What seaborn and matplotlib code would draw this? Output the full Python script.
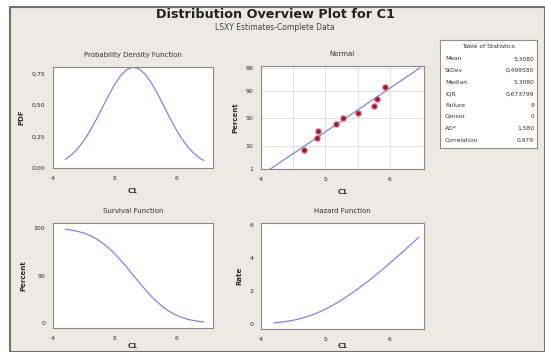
import numpy as np
import matplotlib
matplotlib.use("Agg")
import matplotlib.pyplot as plt
import seaborn as sns
from matplotlib.patches import Rectangle
from statistics import NormalDist

# values
curve_x = [4.2, 4.3, 4.4, 4.5, 4.6, 4.7, 4.8, 4.9, 5.0, 5.1, 5.2, 5.3,
           5.4, 5.5, 5.6, 5.7, 5.8, 5.9, 6.0, 6.1, 6.2, 6.3, 6.4, 6.45]
pdf_y = [0.068, 0.104, 0.153, 0.216, 0.293, 0.381, 0.476, 0.572, 0.660, 0.732,
         0.780, 0.798, 0.785, 0.742, 0.673, 0.587, 0.492, 0.396, 0.306, 0.227,
         0.162, 0.111, 0.073, 0.059]
surv_y = [98.7, 97.8, 96.5, 94.7, 92.2, 88.8, 84.5, 79.3, 73.1, 66.1, 58.6, 50.6,
          42.7, 35.0, 27.9, 21.6, 16.2, 11.8, 8.3, 5.7, 3.7, 2.4, 1.4, 1.1]
haz_y = [0.07, 0.11, 0.16, 0.23, 0.32, 0.43, 0.56, 0.72, 0.90, 1.11, 1.33, 1.58,
         1.84, 2.12, 2.41, 2.71, 3.03, 3.35, 3.69, 4.03, 4.37, 4.73, 5.08, 5.27]

obs_x = [4.66, 4.87, 4.89, 5.17, 5.28, 5.50, 5.76, 5.80, 5.93]
obs_pct = [7.5, 18.1, 28.7, 39.4, 50.0, 60.6, 71.3, 81.9, 92.6]
fit_x = [4.146, 6.470]
fit_pct = [1, 99]
pct_ticks = [1, 10, 50, 90, 99]

stat_names = ["Mean", "StDev", "Median", "IQR", "Failure", "Censor", "AD*", "Correlation"]
stat_values = ["5,3080", "0,499580", "5,3080", "0,673799", "9", "0", "1,580", "0,979"]

sns.set_style("white")
plt.rcParams["font.family"] = ["DejaVu Sans"]

bg = "#efe9e3"
line_col = "#8282e2"
spine_col = "#8a8a8a"
txt_col = "#303030"

fig = plt.figure(figsize=(5.45, 3.52), dpi=100, facecolor="white")
fig.patches.append(Rectangle((10 / 545, 0), 535 / 545, 345 / 352, transform=fig.transFigure,
                             facecolor=bg, edgecolor="#707070", linewidth=1.5, zorder=-10))

fig.text(0.505, 1 - 15 / 352, "Distribution Overview Plot for C1", ha="center", va="center",
         fontsize=9.2, fontweight="bold", color="#222222")
fig.text(0.505, 1 - 27 / 352, "LSXY Estimates-Complete Data", ha="center", va="center",
         fontsize=5.5, color="#444444")


def style_axes(ax, title, ylabel, xpad=5):
    ax.set_facecolor("white")
    for s in ax.spines.values():
        s.set_color(spine_col)
        s.set_linewidth(0.8)
    ax.tick_params(axis="both", direction="out", length=3, width=0.6,
                   labelsize=4.5, colors=txt_col, pad=2.5)
    ax.set_title(title, fontsize=5, color="#333333", pad=7)
    ax.set_xlabel("C1", fontsize=5, fontweight="bold", color=txt_col, labelpad=xpad)
    ax.set_ylabel(ylabel, fontsize=5, fontweight="bold", color=txt_col, labelpad=5)


# Probability density function
ax1 = fig.add_axes([53 / 545, 1 - 168 / 352, 160 / 545, 101 / 352])
sns.lineplot(x=curve_x, y=pdf_y, ax=ax1, color=line_col, linewidth=0.9)
ax1.set_xlim(4, 6.6)
ax1.set_ylim(0, 0.80)
ax1.set_xticks([4, 5, 6])
ax1.set_yticks([0, 0.25, 0.5, 0.75])
ax1.set_yticklabels(["0,00", "0,25", "0,50", "0,75"])
style_axes(ax1, "Probability Density Function", "PDF")

# Normal probability plot
nd = NormalDist()
_ppf = np.vectorize(nd.inv_cdf, otypes=[float])
_cdf = np.vectorize(nd.cdf, otypes=[float])


def fwd(p):
    p = np.clip(np.asarray(p, dtype=float), 1e-6, 100 - 1e-6) / 100
    return _ppf(p)


def inv(z):
    return _cdf(np.asarray(z, dtype=float)) * 100


ax2 = fig.add_axes([261 / 545, 1 - 169 / 352, 163 / 545, 103 / 352])
ax2.set_yscale("function", functions=(fwd, inv))
sns.lineplot(x=fit_x, y=fit_pct, ax=ax2, color=line_col, linewidth=0.9)
sns.scatterplot(x=obs_x, y=obs_pct, ax=ax2, color="#8a2035", edgecolor="#e8506a",
                linewidth=0.8, s=14, zorder=5)
ax2.set_xlim(4, 6.53)
ax2.set_ylim(1, 99.2)
ax2.set_xticks([4, 5, 6])
ax2.set_xticks([4.5, 5.5], minor=True)
ax2.set_yticks(pct_ticks)
ax2.set_yticklabels([str(t) for t in pct_ticks])
ax2.yaxis.set_minor_locator(matplotlib.ticker.NullLocator())
ax2.grid(True, which="both", color="#dcdcdc", linewidth=0.6)
ax2.tick_params(axis="x", which="minor", length=0)
style_axes(ax2, "Normal", "Percent")
ax2.set_axisbelow(True)

# Survival function
ax3 = fig.add_axes([53 / 545, 1 - 328 / 352, 160 / 545, 105 / 352])
sns.lineplot(x=curve_x, y=surv_y, ax=ax3, color=line_col, linewidth=0.9)
ax3.set_xlim(4, 6.6)
ax3.set_ylim(-5.3, 105.3)
ax3.set_xticks([4, 5, 6])
ax3.set_yticks([0, 50, 100])
style_axes(ax3, "Survival Function", "Percent", xpad=1.5)

# Hazard function
ax4 = fig.add_axes([261 / 545, 1 - 329 / 352, 163 / 545, 106 / 352])
sns.lineplot(x=curve_x, y=haz_y, ax=ax4, color=line_col, linewidth=0.9)
ax4.set_xlim(4, 6.53)
ax4.set_ylim(-0.3, 6.12)
ax4.set_xticks([4, 5, 6])
ax4.set_yticks([0, 2, 4, 6])
style_axes(ax4, "Hazard Function", "Rate", xpad=1)

# Table of statistics
tab = fig.add_axes([440 / 545, 1 - 148 / 352, 97 / 545, 108 / 352])
tab.set_facecolor("white")
tab.set_xticks([])
tab.set_yticks([])
for s in tab.spines.values():
    s.set_color("#909090")
    s.set_linewidth(0.8)
tab.set_xlim(0, 97)
tab.set_ylim(108, 0)
tab.text(48.5, 7, "Table of Statistics", ha="center", va="center", fontsize=4.3, color=txt_col)
for i, (n, v) in enumerate(zip(stat_names, stat_values)):
    y = 19 + i * 11.6
    tab.text(5, y, n, ha="left", va="center", fontsize=4.3, color=txt_col)
    tab.text(94, y, v, ha="right", va="center", fontsize=4.3, color=txt_col)

fig.savefig("out.png", dpi=100, facecolor=fig.get_facecolor())
